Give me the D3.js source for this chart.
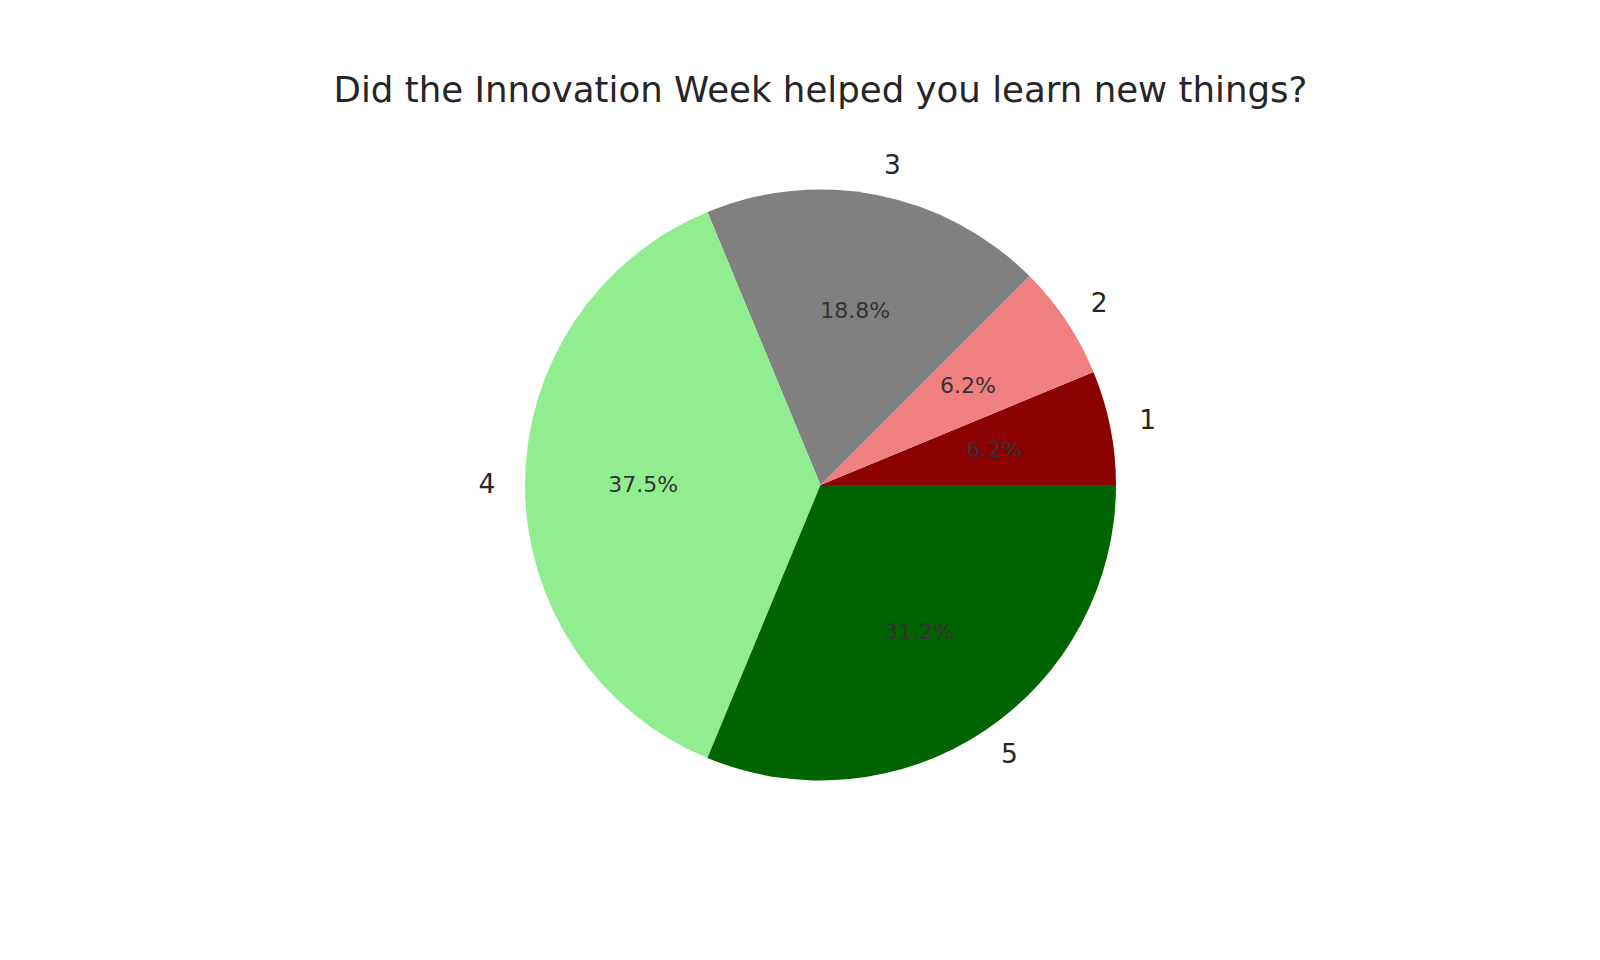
<!DOCTYPE html>
<html>
<head>
<meta charset="utf-8">
<script src="https://cdn.jsdelivr.net/npm/d3@7"></script>
<style>
  html, body { margin: 0; padding: 0; background: #fff; }
  svg { display: block; font-family: "DejaVu Sans", sans-serif; }
</style>
</head>
<body>
<svg id="chart"></svg>
<script>
const categories = ["1", "2", "3", "4", "5"];
const counts = [1, 1, 3, 6, 5];
const colors = ["#8b0000", "#f08080", "#808080", "#90ee90", "#006400"];
const title = "Did the Innovation Week helped you learn new things?";

const width = 1600;
const height = 960;
const cx = 820.5;
const cy = 485;
const radius = 295.5;

const svg = d3.select("#chart").attr("width", width).attr("height", height);

svg.append("text")
  .attr("x", cx)
  .attr("y", 102)
  .attr("text-anchor", "middle")
  .attr("font-size", "35.6px")
  .attr("fill", "#262626")
  .text(title);

const data = categories.map((c, i) => ({ label: c, value: counts[i], color: colors[i] }));
const total = d3.sum(counts);

// one decimal, rounding halves to even like the original chart (6.25 -> 6.2)
const pctFmt = v => {
  const x = v * 10;
  const f = Math.floor(x);
  const diff = x - f;
  let r;
  if (Math.abs(diff - 0.5) < 1e-9) r = f % 2 === 0 ? f : f + 1;
  else r = Math.round(x);
  return (r / 10).toFixed(1) + "%";
};

// start at 3 o'clock, go counter-clockwise
const pie = d3.pie()
  .value(d => d.value)
  .sort(null)
  .startAngle(Math.PI / 2)
  .endAngle(Math.PI / 2 - 2 * Math.PI);

const arcs = pie(data);
const arc = d3.arc().innerRadius(0).outerRadius(radius);

const g = svg.append("g").attr("transform", `translate(${cx},${cy})`);

g.selectAll("path.slice")
  .data(arcs)
  .join("path")
  .attr("class", "slice")
  .attr("d", arc)
  .attr("fill", d => d.data.color);

const mid = d => (d.startAngle + d.endAngle) / 2;

g.selectAll("text.label")
  .data(arcs)
  .join("text")
  .attr("class", "label")
  .attr("x", d => Math.sin(mid(d)) * radius * 1.1)
  .attr("y", d => -Math.cos(mid(d)) * radius * 1.1)
  .attr("dy", "0.29em")
  .attr("text-anchor", d => Math.sin(mid(d)) > 0 ? "start" : "end")
  .attr("font-size", "26.5px")
  .attr("fill", "#262626")
  .text(d => d.data.label);

g.selectAll("text.pct")
  .data(arcs)
  .join("text")
  .attr("class", "pct")
  .attr("x", d => Math.sin(mid(d)) * radius * 0.6)
  .attr("y", d => -Math.cos(mid(d)) * radius * 0.6)
  .attr("dy", "0.31em")
  .attr("text-anchor", "middle")
  .attr("font-size", "22px")
  .attr("fill", "#333333")
  .text(d => pctFmt(d.value / total * 100));
</script>
</body>
</html>
